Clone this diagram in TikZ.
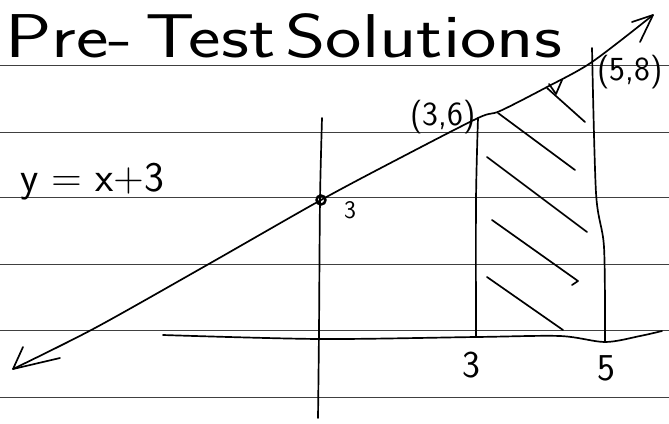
\documentclass[tikz,border=0pt]{standalone}
\usepackage{fontspec}
\usepackage{tikz}

\begin{document}
\begin{tikzpicture}[x=0.025cm, y=-0.025cm]
                    \tikzset{pen/.style={line width=1.2pt, line cap=round, line join=round},
                             rule/.style={black!75, line width=0.7pt},
                             title/.style={inner sep=0pt, anchor=base west, xscale=1.25, transform shape, font=\sffamily\fontsize{44}{44}\selectfont},
                             hand/.style={inner sep=0pt, font=\sffamily\fontsize{24}{24}\selectfont}}
                    \useasboundingbox (0,0) rectangle (669,423);

                    \foreach \ry in {65,132,197,264,330,397}
                        \draw[rule] (0,\ry) -- (669,\ry);

                    \node[title] (pre) at (5,57) {Pre-};
                    \node[title] (test) at (145,57) {Test};
                    \node[title] (solutions) at (285,57) {Solutions};
                    \node[hand, anchor=base west, font=\sffamily\fontsize{30}{30}\selectfont] (eq) at (20,191) {y = x+3};
                    \node[hand] (lab36) at (443,117) {(3,6)};
                    \node[hand] (lab58) at (630,72) {(5,8)};
                    \node[hand, font=\sffamily\fontsize{27}{27}\selectfont] (tick3) at (471,365) {3};
                    \node[hand, font=\sffamily\fontsize{27}{27}\selectfont] (tick5) at (606,368) {5};
                    \node[hand, font=\sffamily\fontsize{18}{18}\selectfont] (int3) at (350,210) {3};

                    \coordinate (lowtip) at (13,369);
                    \coordinate (uptip) at (653,15);
                    \coordinate (yint) at (321,200);
                    \coordinate (p36) at (478,118);
                    \coordinate (p58) at (592,62);
                    \coordinate (top5) at (592,48);
                    \coordinate (foot3) at (476,337);
                    \coordinate (foot5) at (605,342);
                    \coordinate (ytop) at (322,118);
                    \coordinate (ybot) at (318,418);
                    \coordinate (xleft) at (163,335);
                    \coordinate (xright) at (662,331);

                    \draw[pen] plot[smooth, tension=0.5] coordinates {(lowtip) (95,328) (207,265) (yint) (400,158) (p36) (500,111) (547,87) (p58) (uptip)};
                    \draw[pen] (23,347) -- (lowtip) -- (60,358);
                    \draw[pen] (632,22) -- (uptip) .. controls (646,28) .. (640,42);

                    \draw[pen] plot[smooth, tension=0.5] coordinates {(ytop) (320,200) (319,330) (ybot)};
                    \draw[pen] plot[smooth, tension=0.5] coordinates {(xleft) (320,339) (foot3) (560,336) (foot5) (640,336) (xright)};
                    \draw[pen] plot[smooth, tension=0.5] coordinates {(p36) (476,200) (foot3)};
                    \draw[pen] plot[smooth, tension=0.5] coordinates {(top5) (596,193) (604,247) (foot5)};

                    \draw[pen, line width=1.8pt] (yint) circle (4.5);

                    \draw[pen] (547,88) -- (585,122);
                    \draw[pen] (549,84) -- (556,94) -- (562,80);
                    \draw[pen] (498,113) -- (575,170);
                    \draw[pen] (487,157) -- (587,232);
                    \draw[pen] (492,220) -- (578,281) -- (572,285);
                    \draw[pen] (487,277) -- (563,330);
                \end{tikzpicture}
\end{document}
